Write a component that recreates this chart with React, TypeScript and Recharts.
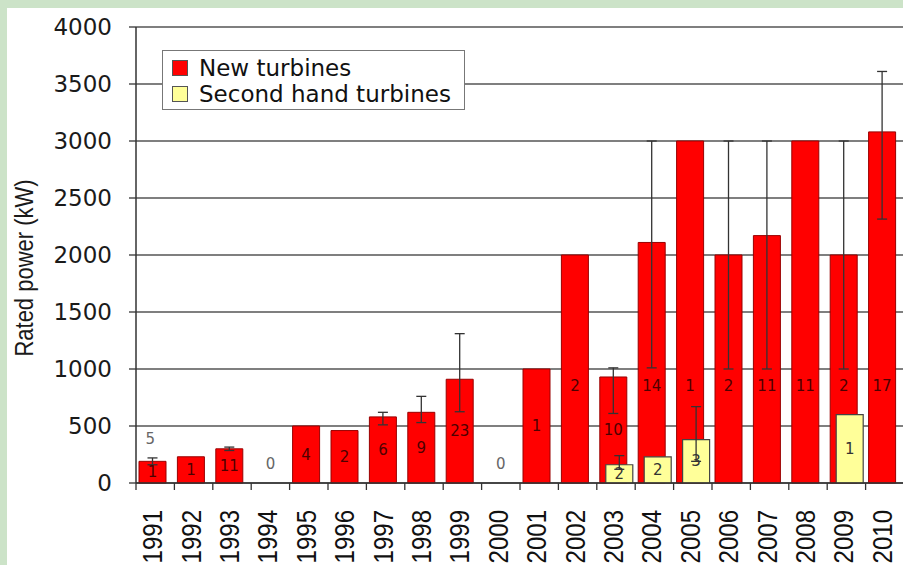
import React from 'react';
import { BarChart, Bar, XAxis, YAxis, CartesianGrid, ErrorBar, LabelList, Legend } from 'recharts';

const years = ['1991', '1992', '1993', '1994', '1995', '1996', '1997', '1998', '1999', '2000',
  '2001', '2002', '2003', '2004', '2005', '2006', '2007', '2008', '2009', '2010'];

// mean rated power (kW)
const newPower = [190, 230, 300, 0, 500, 460, 580, 620, 910, 0, 1000, 2000, 930, 2110, 3000, 2000, 2170, 3000, 2000, 3080];
const secondPower = [0, 0, 0, 0, 0, 0, 0, 0, 0, 0, 0, 0, 160, 230, 380, 0, 0, 0, 600, 0];

// error bars as [below, above], null = none
const newErr = [[30, 30], null, [15, 15], null, null, null, [70, 40], [90, 140], [285, 400], null,
  null, null, [320, 80], [1100, 890], null, [1000, 1000], [1170, 830], null, [1000, 1000], [765, 530]];
const secondErr = [null, null, null, null, null, null, null, null, null, null,
  null, null, [40, 80], null, [190, 290], null, null, null, null, null];

// number of turbines
const newCount = ['1', '1', '11', '', '4', '2', '6', '9', '23', '', '1', '2', '10', '14', '1', '2', '11', '11', '2', '17'];
const secondCount = ['', '', '', '', '', '', '', '', '', '', '', '', '2', '2', '3', '', '', '', '1', ''];
const notes = ['5', '', '', '0', '', '', '', '', '', '0', '', '', '', '', '', '', '', '', '', ''];

const data = years.map((year, i) => ({
  year,
  newPower: newPower[i],
  secondPower: secondPower[i],
  newErr: newErr[i],
  secondErr: secondErr[i],
  newCount: newCount[i],
  secondCount: secondCount[i],
}));

const CHART_W = 910;
const CHART_H = 565;
const Y_AXIS_W = 136;
const X_AXIS_H = 82;
const MARGIN = { top: 27, right: 6, bottom: 0, left: 0 };
const PLOT_W = CHART_W - Y_AXIS_W - MARGIN.left - MARGIN.right;
const PLOT_H = CHART_H - X_AXIS_H - MARGIN.top - MARGIN.bottom;
const BAND = PLOT_W / years.length;
const KW_PX = PLOT_H / 4000;
const LABEL_CAP_KW = 850;

const FONT = '"DejaVu Sans", sans-serif';
const ARIAL = '"Liberation Sans", Arial, sans-serif';

// year label, boundary tick and the grey note sitting above the (new) bar
const YearTick = (props: any) => {
  const { x, y, payload, index } = props;
  const err = newErr[index];
  const top = y - (newPower[index] + (err ? err[1] : 0)) * KW_PX;
  const noteX = newPower[index] > 0 ? x - 5 : x;
  return (
    <g>
      <line x1={x - BAND / 2} x2={x - BAND / 2} y1={y} y2={y + 7} stroke="#333" strokeWidth={1.3} />
      <text
        transform={`translate(${x + 7},${y + 27}) scale(1.16,1) rotate(-90)`}
        textAnchor="end"
        fontSize={24}
        fontFamily={ARIAL}
        fill="#111"
      >
        {payload.value}
      </text>
      {notes[index] ? (
        <text x={noteX} y={top - 14} textAnchor="middle" fontSize={15} fontFamily={FONT} fill="#666">
          {notes[index]}
        </text>
      ) : null}
    </g>
  );
};

const newLabel = (props: any) => {
  const { x, y, width, height, value } = props;
  if (!value) return null;
  const bottom = y + height;
  const cy = Math.max(y + height / 2, bottom - LABEL_CAP_KW * KW_PX);
  return (
    <text x={x + width / 2} y={cy} textAnchor="middle" dominantBaseline="central"
      fontSize={15} fontFamily={FONT} fill="#4d0000">
      {value}
    </text>
  );
};

const secondLabel = (props: any) => {
  const { x, y, width, height, value } = props;
  if (!value) return null;
  return (
    <text x={x + width / 2} y={y + height / 2} textAnchor="middle" dominantBaseline="central"
      fontSize={15} fontFamily={FONT} fill="#333">
      {value}
    </text>
  );
};

const LegendBox = (props: any) => {
  const { payload } = props;
  return (
    <div style={{
      border: '1.5px solid #777', background: '#fff', padding: '4px 8px 2px 9px',
      fontFamily: FONT, fontSize: 23, lineHeight: '26px', color: '#111', boxSizing: 'border-box',
    }}>
      {(payload || []).map((p: any) => (
        <div key={p.value} style={{ display: 'flex', alignItems: 'center', whiteSpace: 'nowrap' }}>
          <span style={{
            display: 'inline-block', width: 14, height: 14, background: p.color,
            border: '1px solid #555', marginRight: 11,
          }} />
          {p.value}
        </div>
      ))}
    </div>
  );
};

export default function App() {
  return (
    <div style={{ position: 'fixed', left: 0, top: 0, width: 903, height: 565, background: '#cce3c8', overflow: 'hidden' }}>
      <div style={{ position: 'absolute', left: 7, top: 8, width: 896, height: 557, background: '#fff' }} />
      <div style={{ position: 'absolute', left: 0, top: 0 }}>
        <BarChart
          width={CHART_W}
          height={CHART_H}
          data={data}
          margin={MARGIN}
          barGap={-21}
        >
          <CartesianGrid vertical={false} stroke="#555" strokeWidth={1.3} />
          <XAxis
            dataKey="year"
            height={X_AXIS_H}
            interval={0}
            tickLine={false}
            tickSize={0}
            tickMargin={0}
            axisLine={{ stroke: '#333', strokeWidth: 1.5 }}
            tick={<YearTick />}
          />
          <YAxis
            width={Y_AXIS_W}
            domain={[0, 4000]}
            ticks={[0, 500, 1000, 1500, 2000, 2500, 3000, 3500, 4000]}
            interval={0}
            tickSize={7}
            tickMargin={17}
            axisLine={{ stroke: '#333', strokeWidth: 1.5 }}
            tickLine={{ stroke: '#333', strokeWidth: 1.3 }}
            tick={{ fontSize: 23, fontFamily: FONT, fill: '#1a1a1a' }}
            label={{
              content: () => (
                <text transform="translate(33,268) scale(1.16,1) rotate(-90)" textAnchor="middle"
                  fontSize={22} fontFamily={ARIAL} fill="#1a1a1a">
                  Rated power (kW)
                </text>
              ),
            }}
          />
          <Legend
            layout="vertical"
            align="center"
            verticalAlign="middle"
            wrapperStyle={{ left: 162, top: 50, width: 303, height: 58 }}
            content={<LegendBox />}
          />
          <Bar
            dataKey="newPower"
            name="New turbines"
            fill="#ff0000"
            stroke="#990000"
            strokeWidth={1}
            barSize={27}
            isAnimationActive={false}
          >
            <ErrorBar dataKey={(d: any) => d.newErr} width={5} stroke="#333" strokeWidth={1.3} isAnimationActive={false} />
            <LabelList dataKey="newCount" content={newLabel} />
          </Bar>
          <Bar
            dataKey="secondPower"
            name="Second hand turbines"
            fill="#ffff99"
            stroke="#444"
            strokeWidth={1.2}
            barSize={27}
            isAnimationActive={false}
          >
            <ErrorBar dataKey={(d: any) => d.secondErr} width={5} stroke="#333" strokeWidth={1.3} isAnimationActive={false} />
            <LabelList dataKey="secondCount" content={secondLabel} />
          </Bar>
        </BarChart>
      </div>
    </div>
  );
}
